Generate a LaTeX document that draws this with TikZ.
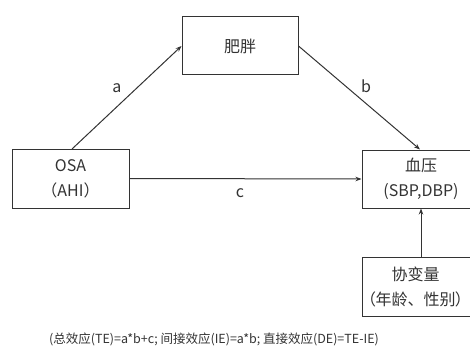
\documentclass[tikz,border=0pt]{standalone}
\usepackage{fontspec}
\setmainfont{Noto Sans CJK SC}
\newfontfamily\paltfont[RawFeature=+palt]{Noto Sans CJK SC}
\usetikzlibrary{arrows.meta}
\definecolor{ln}{HTML}{333333}
\tikzset{
  box/.style={draw=ln, line width=1pt, rectangle, inner sep=0pt, align=center, font=\fontsize{16}{25}\selectfont, text=ln},
  txt/.style={inner sep=0pt, align=center, font=\fontsize{16}{25}\selectfont, text=ln},
  arr/.style={draw=ln, line width=1pt, -{Stealth[length=6pt,width=4.5pt]}},
  lbl/.style={font=\fontsize{16}{18}\selectfont, text=ln}
}
\begin{document}
\begin{tikzpicture}[x=1pt,y=-1pt]
\useasboundingbox (0,0) rectangle (470,350);
\clip (0,0) rectangle (470,350);
\node[box, minimum width=116pt, minimum height=58pt] (fat) at (240,46) {肥胖};
\node[box, minimum width=117pt, minimum height=59pt] (osa) at (70.5,178.5) {OSA\\（AHI）};
\node[box, minimum width=118pt, minimum height=58pt] (bp) at (421,179) {};
\node[txt] (bptext) at (421,179) {血压\\(SBP,DBP)};
\node[box, minimum width=118pt, minimum height=59pt] (cov) at (421,286.5) {};
\node[txt] (covtext) at (415.5,286.5) {协变量\\{\paltfont （}年龄、性别{\paltfont ）}};
\coordinate (osatop) at (72,149);
\coordinate (bptop) at (420,149.5);
\draw[arr] (osatop) -- (fat.west);
\draw[arr] (fat.east) -- (bptop);
\draw[arr] (osa.east) -- (bp.west);
\draw[arr] (cov.north) -- (bp.south);
\node[lbl] (la) at (117,88) {a};
\node[lbl] (lb) at (366,86) {b};
\node[lbl] (lc) at (240,193) {c};
\node[font=\fontsize{12.5}{14}\selectfont, text=ln] (note) at (214,339) {(总效应(TE)=a*b+c; 间接效应(IE)=a*b; 直接效应(DE)=TE-IE)};
\end{tikzpicture}
\end{document}
